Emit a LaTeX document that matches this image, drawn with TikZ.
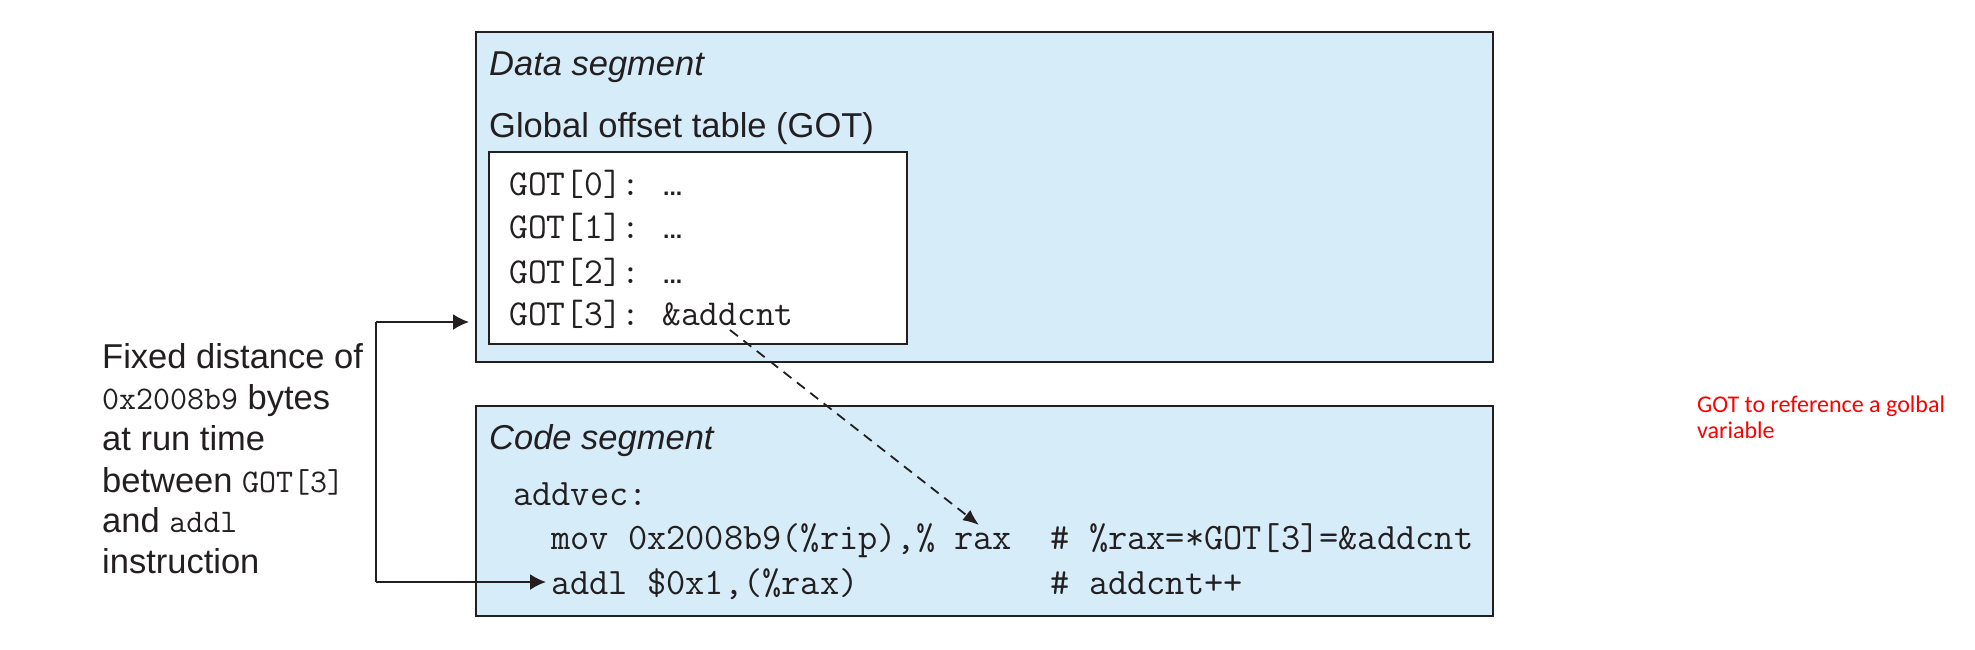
\documentclass[tikz,border=0pt]{standalone}
\usepackage{fontspec}
\newfontfamily\helv{Liberation Sans}
\newfontfamily\calib{Carlito}
\usetikzlibrary{arrows.meta}
\definecolor{segfill}{RGB}{214,236,249}
\definecolor{edgec}{RGB}{35,31,32}
\begin{document}
\begin{tikzpicture}[x=1pt,y=-1pt,
  seg/.style={draw=edgec,fill=segfill,line width=2pt},
  tbl/.style={draw=edgec,fill=white,line width=2pt},
  sans/.style={anchor=base west,inner sep=0pt,text=edgec,font=\helv\fontsize{34.5}{41}\selectfont},
  isans/.style={anchor=base west,inner sep=0pt,text=edgec,font=\helv\itshape\fontsize{34.5}{41}\selectfont},
  mono/.style={anchor=base west,inner sep=0pt,text=edgec,font=\ttfamily\fontsize{36.5}{44}\selectfont},
  code/.style={anchor=base west,inner sep=0pt,text=edgec,font=\ttfamily\fontsize{37.3}{44}\selectfont},
  dots/.style={anchor=base west,inner sep=0pt,text=edgec,font=\helv\bfseries\fontsize{23}{28}\selectfont},
  note/.style={anchor=base west,inner sep=0pt,text=red,font=\calib\fontsize{24}{28}\selectfont},
  arr/.style={draw=edgec,line width=2pt,-{Latex[length=16pt,width=16pt]}},
  darr/.style={draw=edgec,line width=1.8pt,dash pattern=on 10pt off 7pt,-{Latex[length=16pt,width=13pt]}}
]
\useasboundingbox (0,0) rectangle (1975,649);
% segments
\draw[seg] (476,32) rectangle (1493,362);
\draw[seg] (476,406) rectangle (1493,616);
\draw[tbl] (489,152) rectangle (907,344);
% data segment texts
\node[isans] (dseg) at (489,75) {Data segment};
\node[sans] (gott) at (489,137) {Global offset table (GOT)};
\node[mono] (g0) at (509,195) {GOT[0]:};
\node[mono] (g1) at (509,238) {GOT[1]:};
\node[mono] (g2) at (509,283) {GOT[2]:};
\node[mono] (g3) at (509,325) {GOT[3]:};
\node[dots] (e0) at (663,195) {...};
\node[dots] (e1) at (663,238) {...};
\node[dots] (e2) at (663,283) {...};
\node[mono] (e3) at (662,325) {\&addcnt};
% code segment texts
\node[isans] (cseg) at (489,449) {Code segment};
\node[code] (addvec) at (513,505) {addvec:};
\node[code] (mov) at (551,549) {mov 0x2008b9(\%rip),\% rax\ \ \# \%rax=*GOT[3]=\&addcnt};
\node[code] (addl) at (551,594) {addl \$0x1,(\%rax)\ \ \ \ \ \ \ \ \ \ \# addcnt++};
% left explanation
\node[sans] (l1) at (102,368) {Fixed distance of};
\node[sans] (l2) at (102,409) {{\ttfamily\fontsize{33}{40}\selectfont 0x2008b9} bytes};
\node[sans] (l3) at (102,450) {at run time};
\node[sans] (l4) at (102,492) {between {\ttfamily\fontsize{33}{40}\selectfont GOT[3]}};
\node[sans] (l5) at (102,532) {and {\ttfamily\fontsize{33}{40}\selectfont addl}};
\node[sans] (l6) at (102,573) {instruction};
% red note
\node[note] (r1) at (1697,412) {GOT to reference a golbal};
\node[note] (r2) at (1697,438) {variable};
% connectors
\coordinate (bt) at (376,322);
\coordinate (bb) at (376,582);
\coordinate (tt) at (469,322);
\coordinate (tb) at (546,582);
\draw[edgec,line width=2pt] (bt) -- (bb);
\draw[arr] (bt) -- (tt);
\draw[arr] (bb) -- (tb);
\coordinate (ds) at (730,330);
\coordinate (de) at (979,525);
\draw[darr] (ds) -- (de);
\end{tikzpicture}
\end{document}
